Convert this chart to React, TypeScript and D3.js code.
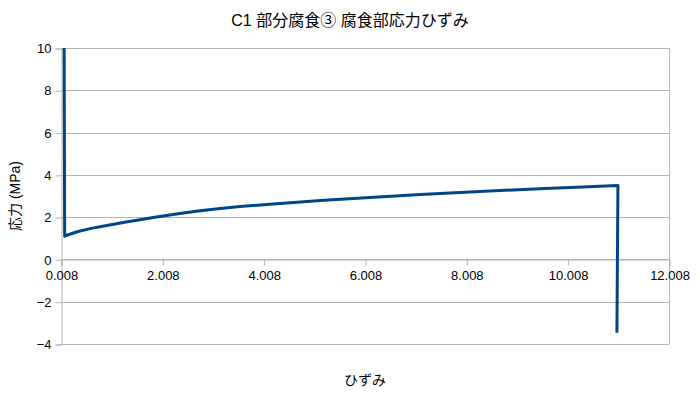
import React, { useRef, useEffect } from 'react';
import * as d3 from 'd3';

// strain / stress readings
const strain = [0.07, 0.08, 0.107, 0.344, 0.606, 0.936, 1.265, 1.593, 1.922, 2.35, 2.751, 3.15, 3.54, 4.33, 5.2, 6.11, 7.1, 8.08, 9.56, 10.3, 10.98, 11.0, 10.98];
const stress = [10, 1.1, 1.13, 1.32, 1.47, 1.62, 1.76, 1.89, 2.02, 2.17, 2.3, 2.41, 2.5, 2.65, 2.8, 2.93, 3.07, 3.19, 3.36, 3.43, 3.5, 3.5, -3.47];

const xTicks = [0.008, 2.008, 4.008, 6.008, 8.008, 10.008, 12.008];
const yTicks = [-4, -2, 0, 2, 4, 6, 8, 10];

const title = 'C1 部分腐食③ 腐食部応力ひずみ';
const xTitle = 'ひずみ';
const yTitle = '応力 (MPa)';

const FONT = '"Liberation Sans", "Noto Sans CJK JP", sans-serif';

function App() {
  const svgRef = useRef<SVGSVGElement>(null);

  useEffect(() => {
    const svg = d3.select(svgRef.current);
    svg.selectAll('*').remove();

    const width = 700;
    const height = 399;
    const margin = { top: 48, right: 31, bottom: 55, left: 61 };

    const x = d3.scaleLinear()
      .domain([0.008, 12.008])
      .range([margin.left, width - margin.right]);
    const y = d3.scaleLinear()
      .domain([-4, 10])
      .range([height - margin.bottom, margin.top]);

    svg.attr('width', width).attr('height', height)
      .style('font-family', FONT);

    svg.append('rect').attr('width', width).attr('height', height).attr('fill', '#fff');

    // horizontal grid
    svg.append('g')
      .selectAll('line')
      .data(yTicks)
      .enter()
      .append('line')
      .attr('x1', margin.left)
      .attr('x2', width - margin.right)
      .attr('y1', d => Math.round(y(d)) + 0.5)
      .attr('y2', d => Math.round(y(d)) + 0.5)
      .attr('stroke', '#b3b3b3');

    // right border of the wall
    svg.append('line')
      .attr('x1', width - margin.right + 0.5)
      .attr('x2', width - margin.right + 0.5)
      .attr('y1', margin.top)
      .attr('y2', height - margin.bottom)
      .attr('stroke', '#b3b3b3');

    // y axis
    const yAxis = svg.append('g')
      .attr('transform', `translate(${margin.left + 0.5},0.5)`)
      .call(d3.axisLeft(y).tickValues(yTicks).tickSize(6).tickPadding(4).tickFormat(d3.format('d')));
    yAxis.select('.domain').attr('stroke', '#b3b3b3');
    yAxis.selectAll('.tick line').attr('stroke', '#b3b3b3');
    yAxis.selectAll('.tick text')
      .attr('fill', '#000')
      .style('font-size', '13px')
      .style('font-family', FONT);

    // x axis at y = 0
    const xAxis = svg.append('g')
      .attr('transform', `translate(0.5,${Math.round(y(0)) + 0.5})`)
      .call(d3.axisBottom(x).tickValues(xTicks).tickSize(6).tickPadding(5).tickFormat(d3.format('.3f')));
    xAxis.select('.domain').attr('stroke', '#b3b3b3');
    xAxis.selectAll('.tick line').attr('stroke', '#b3b3b3');
    xAxis.selectAll('.tick text')
      .attr('fill', '#000')
      .style('font-size', '13px')
      .style('font-family', FONT);

    // series
    const pts = strain.map((s, i) => [s, stress[i]] as [number, number]);
    const line = d3.line<[number, number]>()
      .x(d => x(d[0]))
      .y(d => y(d[1]));
    svg.append('path')
      .datum(pts)
      .attr('d', line)
      .attr('fill', 'none')
      .attr('stroke', '#004586')
      .attr('stroke-width', 3)
      .attr('stroke-linejoin', 'round');

    // Title
    svg.append('text')
      .attr('x', width / 2)
      .attr('y', 26)
      .attr('text-anchor', 'middle')
      .style('font-size', '16px')
      .text(title);

    // axis titles
    svg.append('text')
      .attr('x', (margin.left + width - margin.right) / 2)
      .attr('y', 385)
      .attr('text-anchor', 'middle')
      .style('font-size', '14px')
      .text(xTitle);

    svg.append('text')
      .attr('transform', `translate(20,${(margin.top + height - margin.bottom) / 2}) rotate(-90)`)
      .attr('text-anchor', 'middle')
      .style('font-size', '14px')
      .text(yTitle);
  }, []);

  return <svg ref={svgRef} style={{ position: 'absolute', left: 0, top: 0 }}></svg>;
}

export default App;
